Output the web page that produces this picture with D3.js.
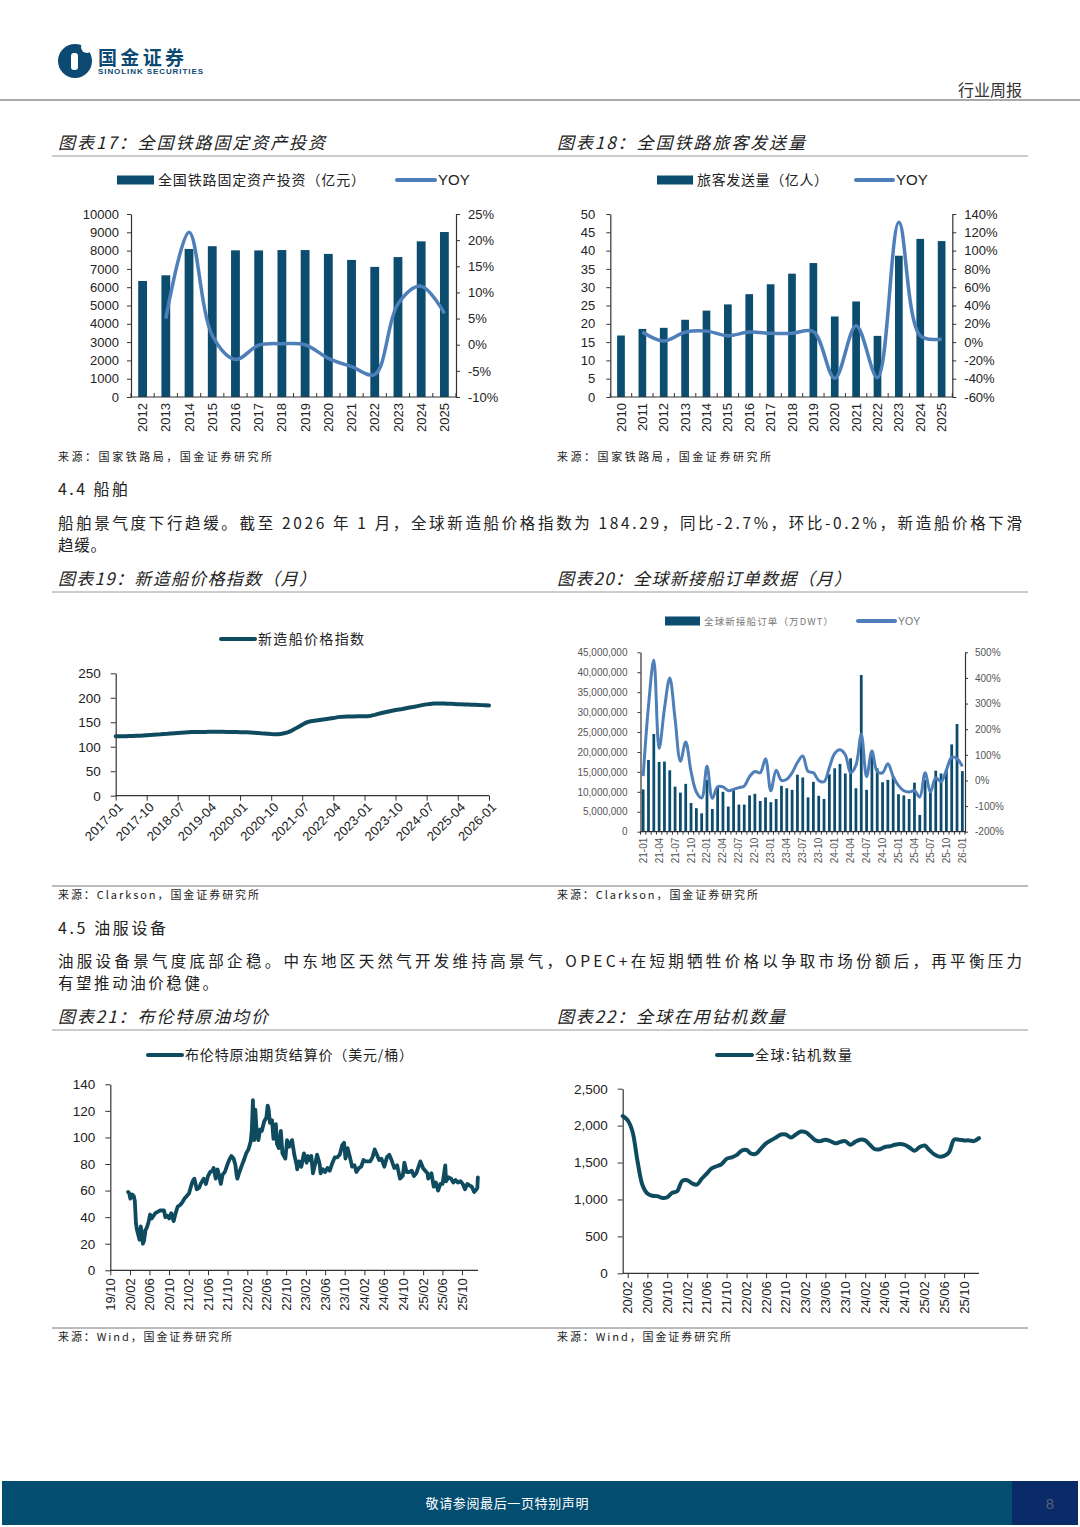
<!DOCTYPE html>
<html>
<head>
<meta charset="utf-8">
<title>行业周报</title>
<script src="https://d3js.org/d3.v7.min.js"></script>
<style>
  body { margin: 0; background: #fff; }
</style>
</head>
<body>
<svg id="page" width="1080" height="1527"></svg>
<script>
// ---------- data ----------
// 图表17 全国铁路固定资产投资
const invYears = ["2012","2013","2014","2015","2016","2017","2018","2019","2020","2021","2022","2023","2024","2025"];
const invValues = [6340, 6650, 8090, 8240, 8015, 8010, 8030, 8030, 7820, 7490, 7110, 7645, 8506, 9015];
const invYoyYears = ["2013","2014","2015","2016","2017","2018","2019","2020","2021","2022","2023","2024","2025"];
const invYoy = [0.05, 0.215, 0.018, -0.028, -0.001, 0.002, 0.0, -0.026, -0.042, -0.057, 0.078, 0.112, 0.06];
const invTicks = [0,1000,2000,3000,4000,5000,6000,7000,8000,9000,10000];
const invPctTicks = [-0.10,-0.05,0,0.05,0.10,0.15,0.20,0.25];

// 图表18 全国铁路旅客发送量
const paxYears = ["2010","2011","2012","2013","2014","2015","2016","2017","2018","2019","2020","2021","2022","2023","2024","2025"];
const paxValues = [16.8, 18.6, 18.9, 21.1, 23.6, 25.3, 28.1, 30.8, 33.7, 36.6, 22.0, 26.1, 16.7, 38.6, 43.2, 42.6];
const paxYoyYears = paxYears.slice(1);
const paxYoy = [0.11, 0.012, 0.108, 0.12, 0.07, 0.11, 0.096, 0.096, 0.115, -0.396, 0.18, -0.39, 1.31, 0.07, 0.035];
const paxTicks = [0,5,10,15,20,25,30,35,40,45,50];
const paxPctTicks = [-0.6,-0.4,-0.2,0,0.2,0.4,0.6,0.8,1.0,1.2,1.4];

// 图表19 新造船价格指数（月），2017-01 ~ 2026-01
const shipIndex = [
  121.5,121.3,121.2,121.5,121.8,122.0,122.3,122.6,123.0,123.5,124.0,124.5,
  125.0,125.3,125.8,126.3,127.0,127.5,128.0,128.5,129.0,129.5,130.0,130.0,
  130.2,130.3,130.3,130.5,130.6,130.7,130.5,130.4,130.3,130.2,130.1,130.0,
  129.8,129.7,129.6,129.3,128.8,128.3,127.5,127.0,126.5,125.8,125.3,125.5,
  126.5,128.0,130.0,133.0,137.0,141.0,145.0,149.0,151.5,152.5,153.5,154.5,
  155.5,156.5,157.5,158.5,160.0,161.0,161.5,161.8,161.9,162.0,162.2,162.2,
  162.3,162.5,163.5,165.0,167.0,169.0,170.5,172.0,173.5,175.0,176.0,177.0,
  178.5,180.0,181.0,182.5,184.0,185.5,186.5,187.5,188.2,188.5,188.5,188.3,
  188.0,187.8,187.5,187.0,186.7,186.5,186.3,186.0,185.7,185.3,185.0,184.6,
  184.29
];
const shipTicks = [0,50,100,150,200,250];

// 图表20 全球新接船订单（百万DWT）与 YOY，2021-01 ~ 2026-01
const orderValues = [
  10.6,18.0,24.5,17.5,17.6,15.4,11.3,9.8,12.0,7.2,5.9,4.6,
  13.0,5.7,11.1,10.0,6.3,10.5,6.8,6.8,9.1,9.5,7.7,8.6,
  7.4,8.2,11.5,10.9,10.5,14.3,13.6,8.6,12.5,9.0,8.2,14.4,
  15.9,17.0,14.6,18.4,10.9,39.3,10.5,19.6,15.9,12.4,13.0,14.0,
  9.4,9.1,8.2,12.3,4.2,13.0,10.0,15.3,14.6,15.5,21.9,27.0,
  15.2
];
const orderYoy = [
  0.17,2.9,4.7,1.25,2.8,4.0,2.4,0.75,1.5,0.35,-0.45,-0.68,
  0.55,-0.7,-0.25,-0.25,-0.4,-0.35,-0.28,-0.22,0.15,0.35,0.3,0.85,
  -0.4,0.4,0.0,0.05,0.3,0.7,0.95,0.35,0.3,0.0,-0.05,0.5,
  1.05,1.2,1.0,0.3,0.6,1.8,0.15,1.15,0.35,0.3,0.65,0.15,
  -0.2,-0.4,-0.45,-0.4,-0.65,0.3,-0.45,0.1,-0.05,0.4,0.9,0.85,
  0.55
];
const orderTicks = [0,5,10,15,20,25,30,35,40,45];
const orderPctTicks = [-2,-1,0,1,2,3,4,5];

// 图表21 布伦特原油期货结算价
const brentDates = [
  "2020-01-20","2020-01-27","2020-02-03","2020-02-14","2020-02-24","2020-03-02","2020-03-09","2020-03-16","2020-03-23","2020-03-31",
  "2020-04-08","2020-04-15","2020-04-21","2020-04-28","2020-05-07","2020-05-15","2020-05-26","2020-06-05","2020-06-15","2020-06-26",
  "2020-07-08","2020-07-22","2020-08-05","2020-08-19","2020-08-31","2020-09-08","2020-09-21","2020-10-02","2020-10-15","2020-10-30",
  "2020-11-09","2020-11-24","2020-12-08","2020-12-22","2021-01-06","2021-01-20","2021-02-03","2021-02-17","2021-02-25","2021-03-08",
  "2021-03-23","2021-04-06","2021-04-20","2021-05-05","2021-05-19","2021-06-01","2021-06-15","2021-06-30","2021-07-06","2021-07-19",
  "2021-07-30","2021-08-10","2021-08-20","2021-08-31","2021-09-14","2021-09-28","2021-10-11","2021-10-25","2021-11-08","2021-11-19",
  "2021-11-26","2021-12-01","2021-12-14","2021-12-29","2022-01-11","2022-01-25","2022-02-08","2022-02-22","2022-03-01","2022-03-08",
  "2022-03-16","2022-03-23","2022-03-31","2022-04-11","2022-04-22","2022-05-03","2022-05-17","2022-05-31","2022-06-08","2022-06-14",
  "2022-06-22","2022-07-05","2022-07-14","2022-07-29","2022-08-05","2022-08-16","2022-08-29","2022-09-08","2022-09-26","2022-10-07",
  "2022-10-20","2022-11-07","2022-11-21","2022-12-06","2022-12-09","2022-12-21","2023-01-04","2023-01-20","2023-02-06","2023-02-14",
  "2023-02-24","2023-03-07","2023-03-17","2023-03-31","2023-04-12","2023-04-28","2023-05-04","2023-05-19","2023-06-01","2023-06-16",
  "2023-06-30","2023-07-14","2023-07-31","2023-08-15","2023-08-31","2023-09-15","2023-09-27","2023-10-06","2023-10-19","2023-11-03",
  "2023-11-16","2023-12-01","2023-12-13","2023-12-29","2024-01-12","2024-01-26","2024-02-09","2024-02-23","2024-03-08","2024-03-22",
  "2024-04-05","2024-04-19","2024-05-03","2024-05-17","2024-06-04","2024-06-20","2024-07-05","2024-07-19","2024-08-05","2024-08-23",
  "2024-09-10","2024-09-27","2024-10-07","2024-10-21","2024-11-08","2024-11-22","2024-12-06","2024-12-20","2025-01-15","2025-01-31",
  "2025-02-14","2025-02-28","2025-03-05","2025-03-25","2025-04-08","2025-04-22","2025-05-05","2025-05-20","2025-06-02","2025-06-19",
  "2025-06-24","2025-07-10","2025-07-25","2025-08-08","2025-08-22","2025-09-05","2025-09-22","2025-10-06","2025-10-20","2025-11-03",
  "2025-11-17","2025-12-01","2025-12-16","2025-12-31","2026-01-05","2026-01-08"
];
const brentValues = [
  59,58,54,57,56,52,35,30,27,23,
  33,28,20,22,30,32,36,42,39,41,
  43,44,45,45,45,40,41,39,43,37,
  42,48,49,51,54,56,58,64,67,69,
  61,62,66,69,65,71,74,75,77,69,
  76,71,65,72,74,79,83,86,84,79,
  72,69,74,79,83,88,91,97,105,128,
  98,121,105,98,106,105,112,115,124,121,
  111,113,99,110,95,92,105,88,84,98,
  93,98,87,79,76,82,78,88,81,86,
  83,86,73,80,87,80,73,76,74,77,
  75,80,85,85,87,94,96,84,92,85,
  78,79,74,77,78,83,82,82,82,85,
  91,87,83,84,78,85,87,83,77,79,
  69,71,81,74,74,75,71,73,82,77,
  75,73,69,73,63,66,60,65,65,79,
  67,70,69,66,68,66,67,65,61,65,
  64,63,59,61,62,70
];
const brentTicks = [0,20,40,60,80,100,120,140];

// 图表22 全球钻机数量（月），2020-01 ~ 2026-01
const rigValues = [
  2130,2070,1920,1520,1200,1080,1050,1045,1020,1030,1090,1110,
  1250,1260,1220,1200,1280,1350,1420,1450,1480,1550,1570,1600,
  1660,1670,1620,1620,1690,1760,1800,1840,1880,1880,1840,1880,
  1920,1910,1860,1800,1790,1810,1790,1760,1780,1790,1740,1780,
  1810,1800,1740,1680,1680,1710,1720,1740,1750,1740,1700,1660,
  1710,1730,1670,1610,1580,1590,1640,1810,1810,1800,1800,1790,
  1830
];
const rigTicks = [0,500,1000,1500,2000,2500];

// ---------- styles ----------
const CN = '"Noto Sans CJK SC", "Noto Sans", sans-serif';
const EN = '"Liberation Sans", Arial, sans-serif';
const BAR = "#0b4c6f";
const YOY = "#4e7fb9";
const DARK = "#0f4b5f";
const INK = "#222";

// plain hyphen for negative numbers, like the source chart
const loc = d3.formatLocale({ decimal: ".", thousands: ",", grouping: [3], currency: ["", ""], minus: "-" });
const pct = loc.format(".0%");
const comma = loc.format(",");

const svg = d3.select("#page");
svg.append("rect").attr("width", 1080).attr("height", 1527).attr("fill", "#fff");

function txt(x, y, s, o = {}) {
  const t = svg.append("text").attr("x", x).attr("y", y).text(s)
    .attr("font-family", o.family || CN)
    .attr("font-size", o.size || 14)
    .attr("fill", o.fill || INK);
  if (o.anchor) t.attr("text-anchor", o.anchor);
  if (o.italic) t.attr("font-style", "italic");
  if (o.weight) t.attr("font-weight", o.weight);
  if (o.len) t.attr("textLength", o.len).attr("lengthAdjust", "spacing");
  return t;
}
function hline(x1, x2, y, color, w) {
  svg.append("line").attr("x1", x1).attr("x2", x2).attr("y1", y).attr("y2", y)
    .attr("stroke", color).attr("stroke-width", w);
}
function styleAxis(g, size, fill) {
  g.attr("font-family", EN).attr("font-size", size);
  g.select(".domain").attr("stroke", "#333").attr("stroke-width", 1.2);
  g.selectAll(".tick line").attr("stroke", "#333");
  g.selectAll(".tick text").attr("fill", fill || INK);
}

// ---------- page header ----------
svg.append("circle").attr("cx", 75).attr("cy", 61).attr("r", 17).attr("fill", "#0d4a73");
svg.append("circle").attr("cx", 87).attr("cy", 47).attr("r", 6).attr("fill", "#fff");
svg.append("rect").attr("x", 71).attr("y", 53).attr("width", 7).attr("height", 17).attr("rx", 3).attr("fill", "#fff");
txt(98, 65, "国金证券", { size: 19, weight: "bold", fill: "#0d4a73", len: 86 });
txt(98, 74, "SINOLINK SECURITIES", { size: 8, weight: "bold", family: EN, fill: "#0d4a73", len: 105 });
txt(1022, 96, "行业周报", { size: 16, anchor: "end", fill: "#333" });
hline(0, 1080, 100, "#aaa", 2);

// ---------- dual axis bar + line chart ----------
function dualChart(c) {
  const g = svg.append("g");
  const xb = d3.scaleBand().domain(c.cats).range([c.left, c.right]);
  const y = d3.scaleLinear().domain(c.yDomain).range([c.bottom, c.top]);
  const yr = d3.scaleLinear().domain(c.rDomain).range([c.bottom, c.top]);
  const bw = xb.bandwidth();

  g.selectAll("rect.bar").data(c.cats).join("rect").attr("class", "bar")
    .attr("x", d => xb(d) + bw * (1 - c.barW) / 2)
    .attr("width", bw * c.barW)
    .attr("y", (d, i) => y(c.bars[i]))
    .attr("height", (d, i) => c.bottom - y(c.bars[i]))
    .attr("fill", BAR);

  const ya = g.append("g").attr("transform", `translate(${c.left},0)`)
    .call(d3.axisLeft(y).tickValues(c.yTicks).tickSize(c.tick).tickSizeOuter(0)
      .tickPadding(c.padL).tickFormat(c.yFmt));
  styleAxis(ya, c.font, c.fill);
  const ra = g.append("g").attr("transform", `translate(${c.right},0)`)
    .call(d3.axisRight(yr).tickValues(c.rTicks).tickSize(c.tick).tickSizeOuter(0)
      .tickPadding(c.padR).tickFormat(pct));
  styleAxis(ra, c.font, c.fill);

  g.append("line").attr("x1", c.left).attr("x2", c.right).attr("y1", c.bottom).attr("y2", c.bottom)
    .attr("stroke", "#333").attr("stroke-width", 1.2);
  const edges = c.cats.map(d => xb(d)).concat([c.right]);
  g.selectAll("line.xt").data(edges).join("line").attr("class", "xt")
    .attr("x1", d => d).attr("x2", d => d)
    .attr("y1", c.bottom).attr("y2", c.bottom + c.xTickDir)
    .attr("stroke", "#333");

  g.selectAll("text.xl").data(c.labelCats).join("text").attr("class", "xl")
    .attr("transform", d => `translate(${xb(d) + bw / 2},${c.bottom + c.labelGap}) rotate(-90)`)
    .attr("text-anchor", "end").attr("dy", "0.35em")
    .attr("font-family", EN).attr("font-size", c.font).attr("fill", c.fill || INK)
    .text(d => d);

  const pts = c.lineCats.map((d, i) => [xb(d) + bw / 2, yr(c.line[i])]);
  g.append("path").attr("d", d3.line().curve(d3.curveCatmullRom.alpha(0.5))(pts))
    .attr("fill", "none").attr("stroke", YOY).attr("stroke-width", c.lineW)
    .attr("stroke-linejoin", "round");
}

// ---------- time line chart ----------
function lineChart(c) {
  const g = svg.append("g");
  const x = d3.scaleTime().domain(c.xDomain).range([c.left, c.right]);
  const y = d3.scaleLinear().domain(c.yDomain).range([c.bottom, c.top]);
  const ya = g.append("g").attr("transform", `translate(${c.left},0)`)
    .call(d3.axisLeft(y).tickValues(c.yTicks).tickSize(5).tickSizeOuter(0)
      .tickPadding(10).tickFormat(c.yFmt || d3.format("d")));
  styleAxis(ya, 13.5);
  const xa = g.append("g").attr("transform", `translate(0,${c.bottom})`)
    .call(d3.axisBottom(x).tickValues(c.xTicks).tickSize(5).tickSizeOuter(0).tickFormat(""));
  styleAxis(xa, 13);
  xa.select(".domain").attr("d", `M${c.left},0H${c.right}`);

  g.selectAll("text.xl").data(c.xTicks).join("text").attr("class", "xl")
    .attr("transform", d => `translate(${x(d) + c.labelDx},${c.bottom + c.labelGap}) rotate(${c.rot})`)
    .attr("text-anchor", "end").attr("dy", "0.35em")
    .attr("font-family", EN).attr("font-size", 13).attr("fill", INK)
    .text(d3.timeFormat(c.xFmt));

  g.append("path")
    .attr("d", d3.line().x(d => x(d[0])).y(d => y(d[1])).curve(c.curve || d3.curveLinear)(c.data))
    .attr("fill", "none").attr("stroke", DARK).attr("stroke-width", c.lineW)
    .attr("stroke-linejoin", "round").attr("stroke-linecap", "round");
}

function legendBar(x, y, w, label, len, size) {
  svg.append("rect").attr("x", x).attr("y", y - 4.5).attr("width", w).attr("height", 9).attr("fill", BAR);
  if (label) txt(x + w + 4, y + size * 0.36, label, { size: size, len: len });
}
function legendLine(x, y, w, color, label, o) {
  svg.append("line").attr("x1", x).attr("x2", x + w).attr("y1", y).attr("y2", y)
    .attr("stroke", color).attr("stroke-width", o.sw || 4).attr("stroke-linecap", "round");
  txt(x + w + 3, y + o.size * 0.36, label, o);
}

// ---------- chart titles & rules ----------
txt(58, 149, "图表17：全国铁路固定资产投资", { size: 17, italic: true, len: 267 });
txt(557, 149, "图表18：全国铁路旅客发送量", { size: 17, italic: true, len: 248 });
hline(52, 1028, 156, "#9a9a9a", 1);

// chart 17
legendBar(117, 180, 37, "全国铁路固定资产投资（亿元）", 207, 14);
legendLine(397, 180, 38, YOY, "YOY", { size: 15, family: EN, sw: 4 });
dualChart({
  cats: invYears, bars: invValues, lineCats: invYoyYears, line: invYoy, labelCats: invYears,
  left: 131, right: 456, top: 214, bottom: 397,
  yDomain: [0, 10000], yTicks: invTicks, yFmt: d3.format("d"),
  rDomain: [-0.10, 0.25], rTicks: invPctTicks,
  barW: 0.38, tick: 4, padL: 8, padR: 8, font: 13, lineW: 3.5, xTickDir: -4, labelGap: 6
});
txt(58, 461, "来源：国家铁路局，国金证券研究所", { size: 11, len: 214 });

// chart 18
legendBar(657, 180, 36, "旅客发送量（亿人）", 131, 14);
legendLine(856, 180, 37, YOY, "YOY", { size: 15, family: EN, sw: 4 });
dualChart({
  cats: paxYears, bars: paxValues, lineCats: paxYoyYears, line: paxYoy, labelCats: paxYears,
  left: 610.3, right: 952.3, top: 214, bottom: 397,
  yDomain: [0, 50], yTicks: paxTicks, yFmt: d3.format("d"),
  rDomain: [-0.6, 1.4], rTicks: paxPctTicks,
  barW: 0.36, tick: 4, padL: 11, padR: 8, font: 13, lineW: 3.5, xTickDir: -4, labelGap: 6
});
txt(557, 461, "来源：国家铁路局，国金证券研究所", { size: 11, len: 214 });

// ---------- 4.4 ----------
txt(58, 495, "4.4 船舶", { size: 16, len: 70 });
txt(58, 529, "船舶景气度下行趋缓。截至 2026 年 1 月，全球新造船价格指数为 184.29，同比-2.7%，环比-0.2%，新造船价格下滑", { size: 15.5, len: 964 });
txt(58, 551, "趋缓。", { size: 15.5, len: 48 });
txt(58, 585, "图表19：新造船价格指数（月）", { size: 17, italic: true, len: 258 });
txt(557, 585, "图表20：全球新接船订单数据（月）", { size: 17, italic: true, len: 294 });
hline(52, 1028, 592, "#9a9a9a", 1);

// chart 19
legendLine(221, 639, 34, DARK, "新造船价格指数", { size: 14, len: 106 });
const shipMonths = d3.timeMonth.range(new Date(2017, 0, 1), new Date(2026, 1, 1));
lineChart({
  left: 115.7, right: 489, top: 673.3, bottom: 795.7,
  xDomain: [new Date(2017, 0, 1), new Date(2026, 0, 1)],
  yDomain: [0, 250], yTicks: shipTicks,
  xTicks: shipMonths.filter((d, i) => i % 9 === 0),
  xFmt: "%Y-%m", rot: -45, labelDx: 5, labelGap: 9,
  data: shipMonths.map((d, i) => [d, shipIndex[i]]), lineW: 4
});
hline(52, 1028, 886, "#777", 1);
txt(58, 899, "来源：Clarkson，国金证券研究所", { size: 11, len: 201 });

// chart 20
legendBar(665, 621, 35, "", 0, 10);
txt(704, 624.5, "全球新接船订单（万DWT）", { size: 9.5, fill: "#777", len: 129 });
legendLine(858, 621, 37, YOY, "YOY", { size: 10.5, family: EN, fill: "#777", sw: 4 });
const orderMonths = d3.timeMonth.range(new Date(2021, 0, 1), new Date(2026, 1, 1)).map(d3.timeFormat("%y-%m"));
dualChart({
  cats: orderMonths, bars: orderValues, lineCats: orderMonths, line: orderYoy,
  labelCats: orderMonths.filter((d, i) => i % 3 === 0),
  left: 640.5, right: 965, top: 652.3, bottom: 831.7,
  yDomain: [0, 45], yTicks: orderTicks, yFmt: d => comma(d * 1000000),
  rDomain: [-2, 5], rTicks: orderPctTicks,
  barW: 0.52, tick: 3, padL: 10, padR: 7, font: 10, fill: "#555", lineW: 3, xTickDir: 3, labelGap: 6
});
txt(557, 899, "来源：Clarkson，国金证券研究所", { size: 11, len: 201 });

// ---------- 4.5 ----------
txt(58, 934, "4.5 油服设备", { size: 16, len: 108 });
txt(58, 967, "油服设备景气度底部企稳。中东地区天然气开发维持高景气，OPEC+在短期牺牲价格以争取市场份额后，再平衡压力", { size: 15.5, len: 964 });
txt(58, 989, "有望推动油价稳健。", { size: 15.5, len: 160 });
txt(58, 1023, "图表21：布伦特原油均价", { size: 17, italic: true, len: 210 });
txt(557, 1023, "图表22：全球在用钻机数量", { size: 17, italic: true, len: 228 });
hline(52, 1028, 1030, "#9a9a9a", 1);

// chart 21
legendLine(148, 1055, 34, DARK, "布伦特原油期货结算价（美元/桶）", { size: 14, len: 228 });
const parse = d3.timeParse("%Y-%m-%d");
lineChart({
  left: 110.3, right: 478, top: 1084.3, bottom: 1270.3,
  xDomain: [new Date(2019, 9, 1), new Date(2026, 0, 9)],
  yDomain: [0, 140], yTicks: brentTicks,
  xTicks: d3.timeMonth.range(new Date(2019, 9, 1), new Date(2025, 10, 1)).filter((d, i) => i % 4 === 0),
  xFmt: "%y/%m", rot: -90, labelDx: 0, labelGap: 8,
  data: brentDates.map((d, i) => [parse(d), brentValues[i]]), lineW: 3.8
});
hline(52, 1028, 1328, "#777", 1);
txt(58, 1341, "来源：Wind，国金证券研究所", { size: 11, len: 174 });

// chart 22
legendLine(717, 1055, 35, DARK, "全球:钻机数量", { size: 14, len: 97 });
const rigMonths = d3.timeMonth.range(new Date(2020, 0, 1), new Date(2026, 1, 1));
lineChart({
  left: 622.7, right: 979, top: 1088.7, bottom: 1273.3,
  xDomain: [new Date(2020, 0, 1), new Date(2026, 0, 1)],
  yDomain: [0, 2500], yTicks: rigTicks, yFmt: comma,
  xTicks: rigMonths.filter((d, i) => i % 4 === 1 && d < new Date(2025, 10, 1)),
  xFmt: "%y/%m", rot: -90, labelDx: 0, labelGap: 8,
  data: rigMonths.map((d, i) => [d, rigValues[i]]), lineW: 4,
  curve: d3.curveCatmullRom.alpha(0.5)
});
txt(557, 1341, "来源：Wind，国金证券研究所", { size: 11, len: 174 });

// ---------- footer ----------
svg.append("rect").attr("x", 2).attr("y", 1481).attr("width", 1076).attr("height", 44).attr("fill", "#034d70");
svg.append("rect").attr("x", 1012).attr("y", 1481).attr("width", 66).attr("height", 44).attr("fill", "#0b2b68");
txt(507, 1508, "敬请参阅最后一页特别声明", { size: 13, anchor: "middle", fill: "#fff", len: 163 });
txt(1050, 1509, "8", { size: 15, family: EN, anchor: "middle", fill: "#55607a" });
</script>
</body>
</html>
